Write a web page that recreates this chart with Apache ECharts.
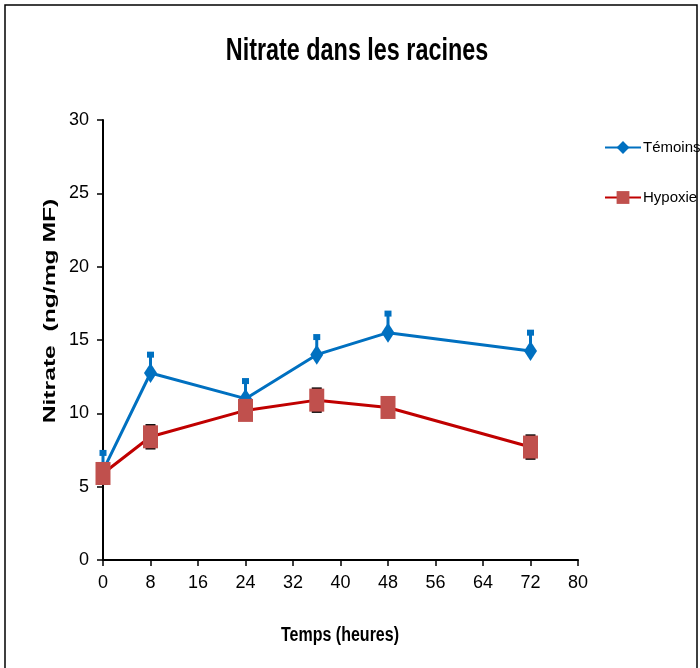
<!DOCTYPE html>
<html>
<head>
<meta charset="utf-8">
<script src="https://cdn.jsdelivr.net/npm/echarts@6/dist/echarts.min.js"></script>
<style>
  html, body { margin: 0; padding: 0; background: #fff; }
  #chart { width: 700px; height: 668px; }
</style>
</head>
<body>
<div id="chart"></div>
<script>
// temps en heures
var hours = [0, 8, 24, 36, 48, 72];
var temoins = [6.1, 12.75, 11.0, 14.0, 15.5, 14.25];
var temoinsErr = [1.2, 1.25, 1.2, 1.2, 1.3, 1.25];
var hypoxie = [5.9, 8.4, 10.2, 10.9, 10.4, 7.7];
var hypoxieErr = [0.7, 0.8, 0.5, 0.8, 0.6, 0.8];
var xTicks = [0, 8, 16, 24, 32, 40, 48, 56, 64, 72, 80];
var yTicks = [0, 5, 10, 15, 20, 25, 30];

var sans = "'Liberation Sans', Arial, sans-serif";

function pairs(ys, errs) {
  return hours.map(function (h, i) { return [h, ys[i], errs[i]]; });
}

var chart = echarts.init(document.getElementById('chart'));

var option = {
  backgroundColor: '#ffffff',
  animation: false,
  graphic: [{
    type: 'rect',
    shape: { x: 5, y: 5, width: 692, height: 680 },
    style: { fill: 'none', stroke: '#000', lineWidth: 1.5 },
    silent: true
  }, {
    // titre (police étroite simulée)
    type: 'text',
    x: 357,
    y: 51,
    scaleX: 0.73,
    style: {
      text: 'Nitrate dans les racines',
      font: 'bold 32px ' + sans,
      fill: '#000',
      align: 'center',
      verticalAlign: 'middle'
    },
    silent: true
  }, {
    type: 'text',
    x: 340,
    y: 635,
    scaleX: 0.8,
    style: {
      text: 'Temps (heures)',
      font: 'bold 20px ' + sans,
      fill: '#000',
      align: 'center',
      verticalAlign: 'middle'
    },
    silent: true
  }, {
    // titre de l'axe y, police large
    type: 'text',
    x: 50,
    y: 311,
    rotation: Math.PI / 2,
    scaleX: 1.45,
    style: {
      text: 'Nitrate  (ng/mg MF)',
      font: 'bold 17px ' + sans,
      fill: '#000',
      align: 'center',
      verticalAlign: 'middle'
    },
    silent: true
  }],
  legend: {
    orient: 'vertical',
    left: 604,
    top: 140,
    padding: 0,
    itemGap: 35,
    itemWidth: 36,
    itemHeight: 16,
    data: ['Témoins', 'Hypoxie'],
    textStyle: { fontFamily: sans, fontSize: 15, color: '#000', padding: [0, 0, 0, -3] }
  },
  grid: { left: 103, right: 122, top: 120, bottom: 108 },
  xAxis: {
    type: 'value',
    min: 0,
    max: 80,
    interval: 8,
    axisLine: { lineStyle: { color: '#000', width: 2 } },
    axisTick: { show: true, length: 6, inside: false, lineStyle: { color: '#000', width: 1.5 } },
    axisLabel: {
      fontFamily: sans, fontSize: 18, color: '#000', margin: 14,
      formatter: function (v) { return xTicks.indexOf(v) >= 0 ? String(v) : ''; }
    },
    splitLine: { show: false }
  },
  yAxis: {
    type: 'value',
    min: 0,
    max: 30,
    interval: 5,
    axisLine: { show: true, lineStyle: { color: '#000', width: 2 } },
    axisTick: { show: true, length: 6, lineStyle: { color: '#000', width: 1.5 } },
    axisLabel: {
      fontFamily: sans, fontSize: 18, color: '#000', margin: 14,
      formatter: function (v) { return yTicks.indexOf(v) >= 0 ? String(v) : ''; }
    },
    splitLine: { show: false }
  },
  series: [
    {
      name: 'Témoins',
      type: 'line',
      data: hours.map(function (h, i) { return [h, temoins[i]]; }),
      symbol: 'diamond',
      symbolSize: [13, 20],
      itemStyle: { color: '#0070C0' },
      lineStyle: { color: '#0070C0', width: 3 },
      z: 3
    },
    {
      // barre d'erreur témoins (vers le haut)
      type: 'custom',
      data: pairs(temoins, temoinsErr),
      renderItem: function (params, api) {
        var p = api.coord([api.value(0), api.value(1)]);
        var t = api.coord([api.value(0), api.value(1) + api.value(2)]);
        return {
          type: 'group',
          children: [
            { type: 'line', shape: { x1: p[0], y1: p[1], x2: t[0], y2: t[1] },
              style: { stroke: '#0070C0', lineWidth: 3 } },
            { type: 'rect', shape: { x: t[0] - 3.5, y: t[1] - 3, width: 7, height: 6 },
              style: { fill: '#0070C0' } }
          ]
        };
      },
      z: 2,
      silent: true
    },
    {
      // barre d'erreur hypoxie
      type: 'custom',
      data: pairs(hypoxie, hypoxieErr),
      renderItem: function (params, api) {
        var b = api.coord([api.value(0), api.value(1) - api.value(2)]);
        var t = api.coord([api.value(0), api.value(1) + api.value(2)]);
        return {
          type: 'group',
          children: [
            { type: 'line', shape: { x1: b[0], y1: b[1], x2: t[0], y2: t[1] },
              style: { stroke: '#000', lineWidth: 2 } },
            { type: 'line', shape: { x1: t[0] - 5, y1: t[1], x2: t[0] + 5, y2: t[1] },
              style: { stroke: '#000', lineWidth: 2 } },
            { type: 'line', shape: { x1: b[0] - 5, y1: b[1], x2: b[0] + 5, y2: b[1] },
              style: { stroke: '#000', lineWidth: 2 } }
          ]
        };
      },
      z: 4,
      silent: true
    },
    {
      name: 'Hypoxie',
      type: 'line',
      data: hours.map(function (h, i) { return [h, hypoxie[i]]; }),
      symbol: 'rect',
      symbolSize: [15, 23],
      itemStyle: { color: '#C0504D' },
      lineStyle: { color: '#C00000', width: 3 },
      z: 5
    }
  ]
};

chart.setOption(option);
</script>
</body>
</html>
